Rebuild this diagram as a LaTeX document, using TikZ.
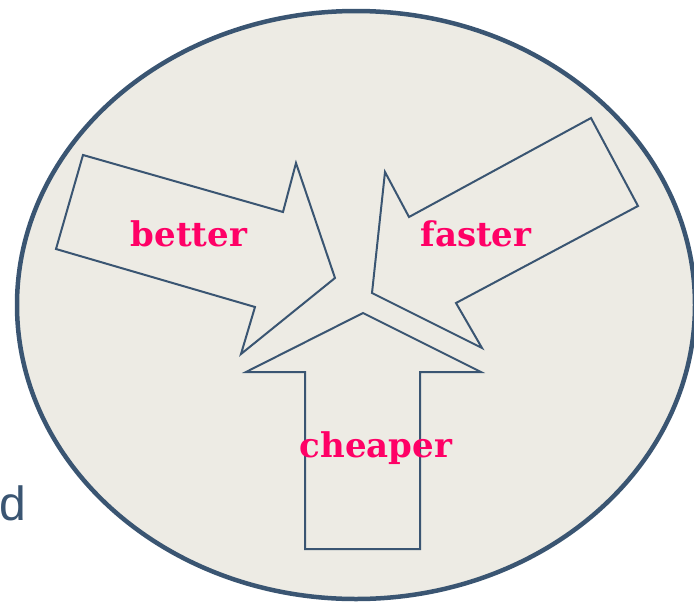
\documentclass[tikz,border=0pt]{standalone}
\usepackage{fontspec}
\usetikzlibrary{shapes.geometric}
\newfontfamily\labfont{DejaVu Serif}
\newfontfamily\sidefont{Liberation Sans}
\definecolor{edge}{HTML}{3A5572}
\definecolor{paper}{HTML}{EDEBE4}
\definecolor{hot}{HTML}{FF0066}
\begin{document}
\begin{tikzpicture}[x=1pt,y=-1pt,
  arrowshape/.style={draw=edge,line width=2pt,line join=miter},
  lab/.style={text=hot,font=\labfont\bfseries\fontsize{34}{34}\selectfont,inner sep=0pt,anchor=base}]
\useasboundingbox (0,0) rectangle (694,603);
\node[draw=edge,fill=paper,line width=4.5pt,ellipse,minimum width=678pt,minimum height=588pt,inner sep=0pt] (oval) at (356,305) {};
\node[text=edge,font=\sidefont\fontsize{48}{48}\selectfont,inner sep=0pt,anchor=base west] (dfrag) at (-1,520) {d};
% better arrow
\draw[arrowshape] (83,155) -- (283,212) -- (296,163) -- (335,278) -- (241,354) -- (255,307) -- (56,249) -- cycle;
% faster arrow
\draw[arrowshape] (591,118) -- (638,206) -- (456,303) -- (482,348) -- (372,293) -- (385,172) -- (409,217) -- cycle;
% cheaper arrow
\draw[arrowshape] (363,313) -- (481,372) -- (420,372) -- (420,549) -- (305,549) -- (305,372) -- (246,372) -- cycle;
\node[lab] (better) at (189,246) {better};
\node[lab] (faster) at (476,246) {faster};
\node[lab] (cheaper) at (376,457) {cheaper};
\end{tikzpicture}
\end{document}
